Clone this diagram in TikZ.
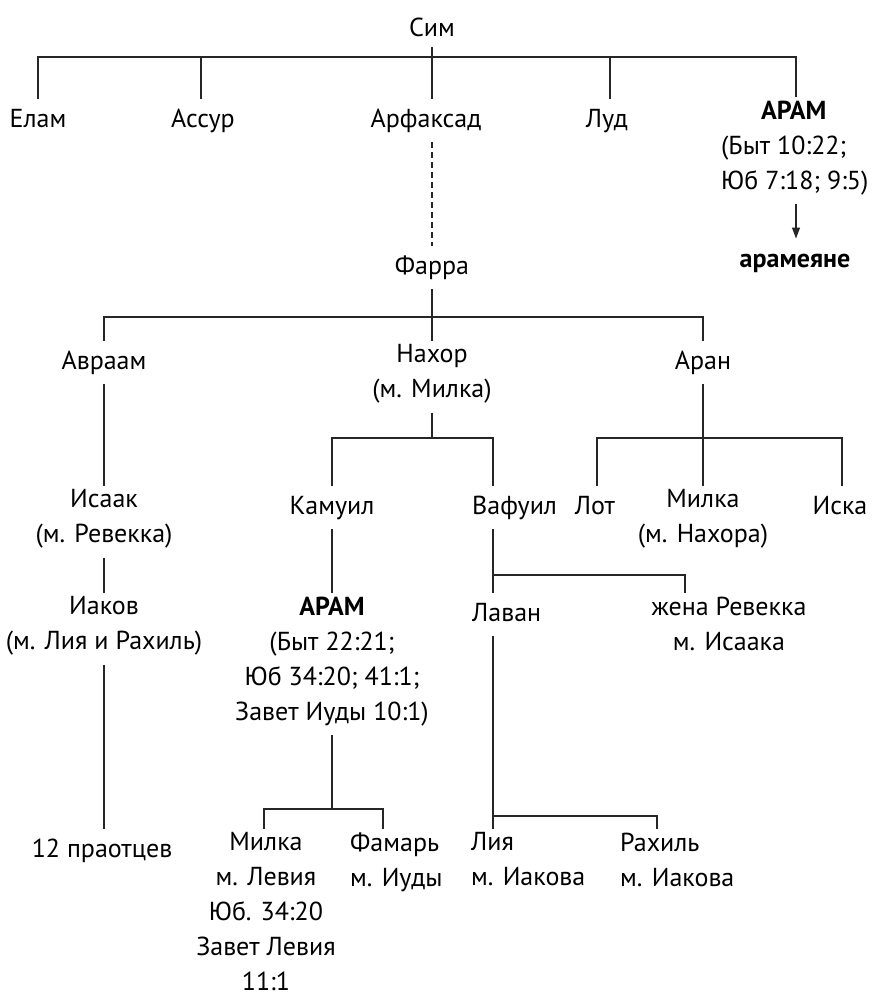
\documentclass[tikz,border=0pt]{standalone}
\usepackage{fontspec}
\setmainfont{PT Sans}
\usetikzlibrary{arrows.meta}
\begin{document}
\begin{tikzpicture}[x=1pt,y=-1pt,
  nm/.style={font=\fontsize{26}{35}\selectfont, inner xsep=0pt, inner ysep=4pt, align=center, anchor=north, execute at begin node=\strut, execute at end node=\strut},
  ln/.style={line width=1.2pt, draw=black!85}]
\useasboundingbox (0,0) rectangle (886,997);
% nodes
\node[nm,inner ysep=0pt] (sim) at (432,11.5) {Сим};
\node[nm] (elam) at (38,98.5) {Елам};
\node[nm] (assur) at (203,98.5) {Ассур};
\node[nm] (arf) at (426,98.5) {Арфаксад};
\node[nm] (lud) at (607,98.5) {Луд};
\node[nm,align=left,anchor=north west] (aramA) at (721,96.5) {\hspace*{40pt}\textbf{АРАМ}\\(Быт 10:22;\\Юб 7:18; 9:5)};
\node[nm,font=\fontsize{26}{35}\selectfont\bfseries] (aramy) at (795,238.5) {арамеяне};
\node[nm] (farra) at (432,245.5) {Фарра};
\node[nm] (avraam) at (104,340.5) {Авраам};
\node[nm] (nahor) at (432,340.5) {Нахор\\(м. Милка)};
\node[nm] (aran) at (703,340.5) {Аран};
\node[nm] (isaak) at (104,485.5) {Исаак\\(м. Ревекка)};
\node[nm] (kamuil) at (332,485.5) {Камуил};
\node[nm,anchor=north west] (vafuil) at (472,485.5) {Вафуил};
\node[nm] (lot) at (595,485.5) {Лот};
\node[nm] (milkaA) at (703,485.5) {Милка\\(м. Нахора)};
\node[nm] (iska) at (840,485.5) {Иска};
\node[nm] (iakov) at (104,592.5) {Иаков\\(м. Лия и Рахиль)};
\node[nm] (aramB) at (332,592.5) {\textbf{АРАМ}\\(Быт 22:21;\\Юб 34:20; 41:1;\\Завет Иуды 10:1)};
\node[nm,anchor=north west] (lavan) at (472,592.5) {Лаван};
\node[nm] (zhena) at (729,592.5) {жена Ревекка\\м. Исаака};
\node[nm] (praotcy) at (102,828.5) {12 праотцев};
\node[nm] (milkaB) at (266,828.5) {Милка\\м. Левия\\Юб. 34:20\\Завет Левия\\11:1};
\node[nm,align=left,anchor=north west] (famar) at (350,828.5) {Фамарь\\м. Иуды};
\node[nm,align=left,anchor=north west] (liya) at (471,828.5) {Лия\\м. Иакова};
\node[nm,align=left,anchor=north west] (rahil) at (620,828.5) {Рахиль\\м. Иакова};
% coordinates
\coordinate (busA) at (0,57);
\coordinate (axis) at (432,0);
\coordinate (aramx) at (796,0);
\coordinate (assurx) at (201,0);
\coordinate (ludx) at (610,0);
\coordinate (busB) at (0,317);
\coordinate (busC) at (0,438);
\coordinate (vafx) at (493,0);
\coordinate (lotx) at (597,0);
\coordinate (iskax) at (842,0);
\coordinate (busD) at (0,575);
\coordinate (zhx) at (685,0);
\coordinate (busE) at (0,809);
\coordinate (busF) at (0,816);
\coordinate (milkaBx) at (264,0);
\coordinate (famarx) at (383,0);
\coordinate (rahilx) at (657,0);
% connectors
\draw[ln] (sim.south) -- (sim.south |- busA);
\draw[ln] (elam.north) -- (elam.north |- busA) -- (aramx |- busA) -- (aramx |- aramA.north);
\draw[ln] (assurx |- busA) -- (assurx |- assur.north);
\draw[ln] (axis |- busA) -- (axis |- arf.north);
\draw[ln] (ludx |- busA) -- (ludx |- lud.north);
\draw[ln,-{Triangle[length=11pt,width=8pt]}] (aramx |- aramA.south) -- (aramx |- aramy.north);
\draw[ln,dash pattern=on 6pt off 4pt] (axis |- arf.south) -- (farra.north);
\draw[ln] (farra.south) -- (farra.south |- busB);
\draw[ln] (avraam.north) -- (avraam.north |- busB) -- (aran.north |- busB) -- (aran.north);
\draw[ln] (nahor.north |- busB) -- (nahor.north);
\draw[ln] (nahor.south) -- (nahor.south |- busC);
\draw[ln] (kamuil.north) -- (kamuil.north |- busC) -- (vafx |- busC) -- (vafx |- vafuil.north);
\draw[ln] (aran.south) -- (milkaA.north);
\draw[ln] (lotx |- lot.north) -- (lotx |- busC) -- (iskax |- busC) -- (iskax |- iska.north);
\draw[ln] (avraam.south) -- (isaak.north);
\draw[ln] (isaak.south) -- (iakov.north);
\draw[ln] (iakov.south) -- (iakov.south |- praotcy.north);
\draw[ln] (kamuil.south) -- (aramB.north);
\draw[ln] (vafx |- vafuil.south) -- (vafx |- lavan.north);
\draw[ln] (vafx |- busD) -- (zhx |- busD) -- (zhx |- lavan.north);
\draw[ln] (aramB.south) -- (aramB.south |- busE);
\draw[ln] (milkaBx |- milkaB.north) -- (milkaBx |- busE) -- (famarx |- busE) -- (famarx |- famar.north);
\draw[ln] (vafx |- lavan.south) -- (vafx |- liya.north);
\draw[ln] (vafx |- busF) -- (rahilx |- busF) -- (rahilx |- rahil.north);
\end{tikzpicture}
\end{document}
